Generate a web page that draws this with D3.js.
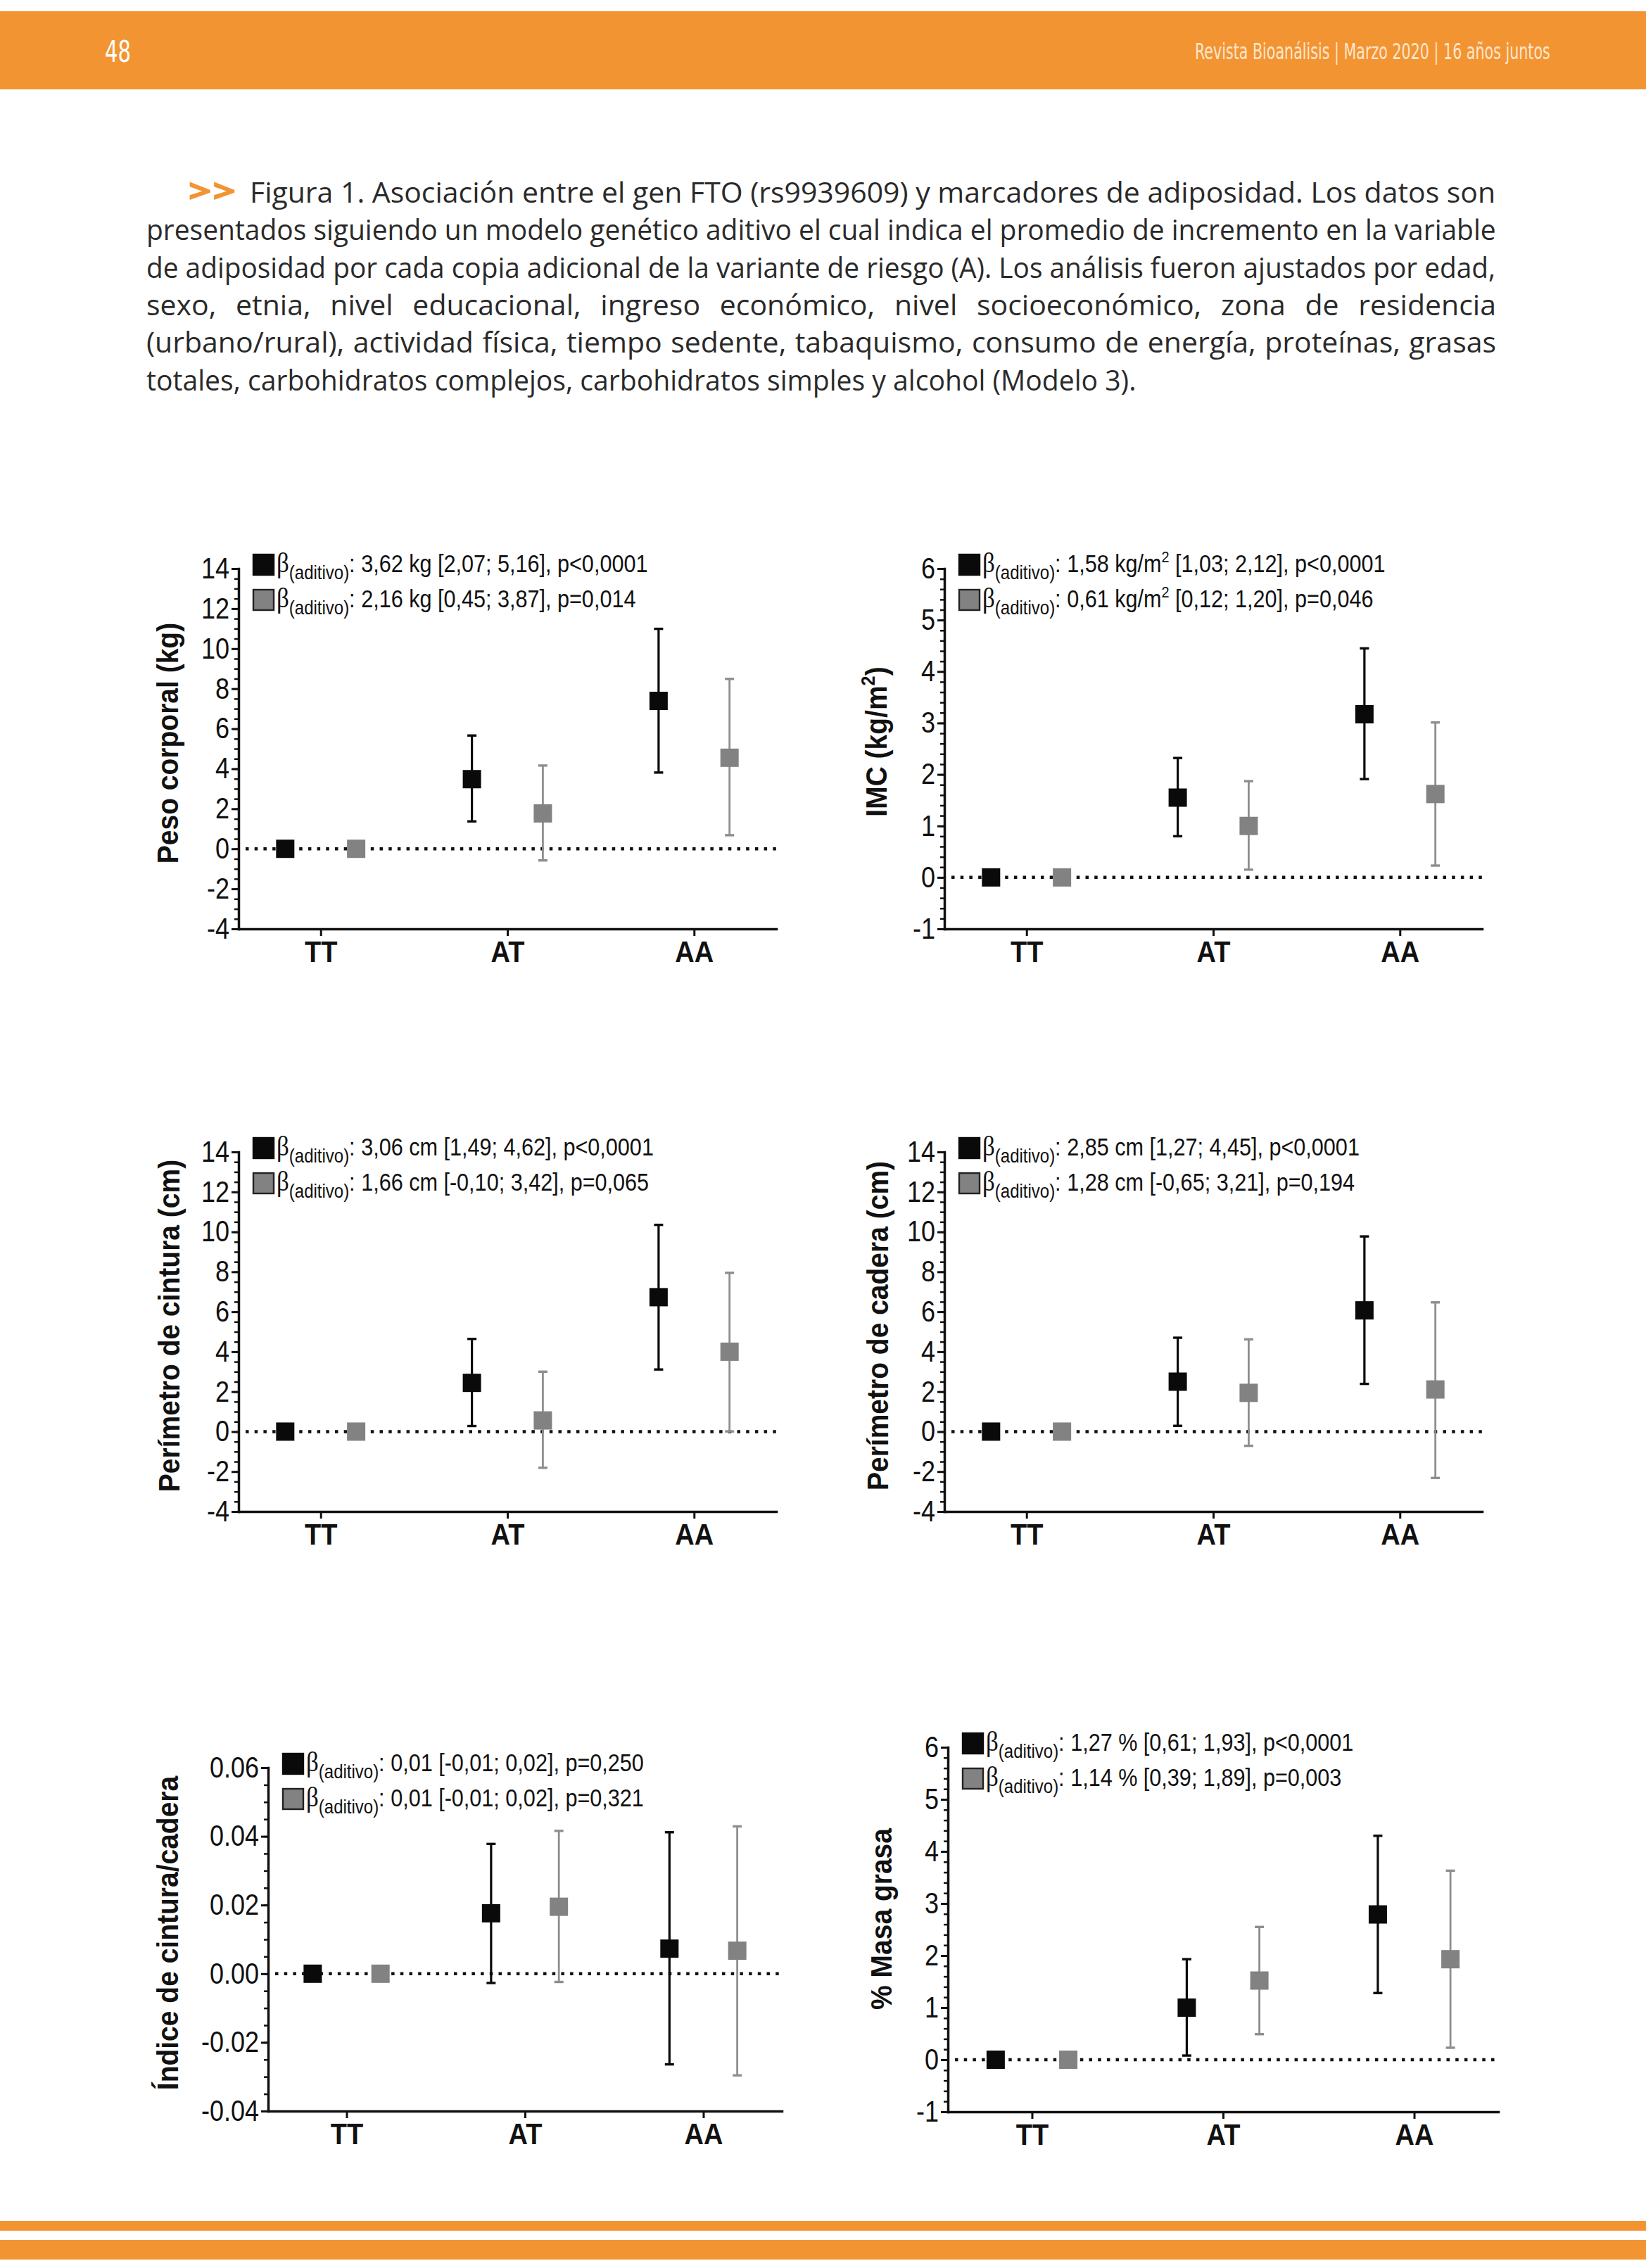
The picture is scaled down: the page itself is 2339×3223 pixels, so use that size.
<!DOCTYPE html>
<html><head><meta charset="utf-8">
<script src="https://cdn.jsdelivr.net/npm/d3@7"></script>
<style>
html,body{margin:0;padding:0;background:#fff;}
svg{display:block;}
</style></head><body>
<svg id="page" width="2339" height="3223"></svg>
<script>
// ---------------- DATA ----------------
const categories = ["TT", "AT", "AA"];

// Panel 1: Peso corporal (kg)
const pesoBlack   = [0, 3.48, 7.39];
const pesoBlackLo = [null, 1.37, 3.81];
const pesoBlackHi = [null, 5.66, 10.99];
const pesoGray    = [0, 1.77, 4.55];
const pesoGrayLo  = [null, -0.58, 0.68];
const pesoGrayHi  = [null, 4.16, 8.49];
const pesoLegend  = ["3,62 kg [2,07; 5,16], p<0,0001", "2,16 kg [0,45; 3,87], p=0,014"];

// Panel 2: IMC (kg/m2)
const imcBlack   = [0, 1.55, 3.17];
const imcBlackLo = [null, 0.80, 1.91];
const imcBlackHi = [null, 2.32, 4.45];
const imcGray    = [0, 1.00, 1.62];
const imcGrayLo  = [null, 0.15, 0.23];
const imcGrayHi  = [null, 1.87, 3.01];
const imcLegend  = ["1,58 kg/m² [1,03; 2,12], p<0,0001", "0,61 kg/m² [0,12; 1,20], p=0,046"];

// Panel 3: Perímetro de cintura (cm)
const cinBlack   = [0, 2.44, 6.73];
const cinBlackLo = [null, 0.28, 3.11];
const cinBlackHi = [null, 4.64, 10.35];
const cinGray    = [0, 0.56, 4.00];
const cinGrayLo  = [null, -1.81, 0.01];
const cinGrayHi  = [null, 3.00, 7.95];
const cinLegend  = ["3,06 cm [1,49; 4,62], p<0,0001", "1,66 cm [-0,10; 3,42], p=0,065"];

// Panel 4: Perímetro de cadera (cm)
const cadBlack   = [0, 2.50, 6.07];
const cadBlackLo = [null, 0.29, 2.39];
const cadBlackHi = [null, 4.70, 9.77];
const cadGray    = [0, 1.94, 2.11];
const cadGrayLo  = [null, -0.71, -2.32];
const cadGrayHi  = [null, 4.62, 6.47];
const cadLegend  = ["2,85 cm [1,27; 4,45], p<0,0001", "1,28 cm [-0,65; 3,21], p=0,194"];

// Panel 5: Índice de cintura/cadera
const iccBlack   = [0, 0.0176, 0.0073];
const iccBlackLo = [null, -0.0027, -0.0264];
const iccBlackHi = [null, 0.0378, 0.0412];
const iccGray    = [0, 0.0195, 0.0067];
const iccGrayLo  = [null, -0.0024, -0.0296];
const iccGrayHi  = [null, 0.0416, 0.0429];
const iccLegend  = ["0,01 [-0,01; 0,02], p=0,250", "0,01 [-0,01; 0,02], p=0,321"];

// Panel 6: % Masa grasa
const mgBlack   = [0, 1.00, 2.79];
const mgBlackLo = [null, 0.08, 1.28];
const mgBlackHi = [null, 1.93, 4.30];
const mgGray    = [0, 1.52, 1.93];
const mgGrayLo  = [null, 0.49, 0.23];
const mgGrayHi  = [null, 2.55, 3.63];
const mgLegend  = ["1,27 % [0,61; 1,93], p<0,0001", "1,14 % [0,39; 1,89], p=0,003"];

// Tick values and labels
const ticks14 = [-4, -2, 0, 2, 4, 6, 8, 10, 12, 14];
const ticks14Labels = ["-4", "-2", "0", "2", "4", "6", "8", "10", "12", "14"];
const ticks6 = [-1, 0, 1, 2, 3, 4, 5, 6];
const ticks6Labels = ["-1", "0", "1", "2", "3", "4", "5", "6"];
const ticksIcc = [-0.04, -0.02, 0, 0.02, 0.04, 0.06];
const ticksIccLabels = ["-0.04", "-0.02", "0.00", "0.02", "0.04", "0.06"];

const yTitles = ["Peso corporal (kg)", "IMC (kg/m²)", "Perímetro de cintura (cm)",
                 "Perímetro de cadera (cm)", "Índice de cintura/cadera", "% Masa grasa"];

const captionLines = [
  "Figura 1. Asociación entre el gen FTO (rs9939609) y marcadores de adiposidad. Los datos son",
  "presentados siguiendo un modelo genético aditivo el cual indica el promedio de incremento en la variable",
  "de adiposidad por cada copia adicional de la variante de riesgo (A). Los análisis fueron ajustados por edad,",
  "sexo, etnia, nivel educacional, ingreso económico, nivel socioeconómico, zona de residencia",
  "(urbano/rural), actividad física, tiempo sedente, tabaquismo, consumo de energía, proteínas, grasas",
  "totales, carbohidratos complejos, carbohidratos simples y alcohol (Modelo 3)."
];
const pageNumber = "48";
const headerText = "Revista Bioanálisis | Marzo 2020 | 16 años juntos";

// ---------------- LAYOUT ----------------
const ORANGE = "#F39433";
const BLACK = "#0a0a0a";
const GRAY = "#828282";
const GRAYBAR = "#8e8e8e";
const SANS = "'Liberation Sans', Arial, sans-serif";
const NARROW = "'Liberation Sans Narrow','DejaVu Sans Condensed',sans-serif";

const svg = d3.select("#page");

// fit a text horizontally into a width using a transform (keeps bbox honest)
function fitText(x, y, w, str, attrs) {
  const t = svg.append("text").attr("x", 0).attr("y", 0);
  Object.entries(attrs).forEach(([k, v]) => t.attr(k, v));
  t.text(str);
  const nat = t.node().getComputedTextLength();
  const sx = w / nat;
  t.attr("transform", `translate(${x},${y}) scale(${sx},1)`);
  return t;
}

// header
svg.append("rect").attr("x", 0).attr("y", 16).attr("width", 2339).attr("height", 111).attr("fill", ORANGE);
fitText(149, 88, 37, pageNumber, {"font-family": NARROW, "font-size": 42, "fill": "#fff"});
fitText(1698, 84, 505, headerText, {"font-family": NARROW, "font-size": 32, "fill": "#FDE6CC"});

// footer bands
svg.append("rect").attr("x", 0).attr("y", 3156).attr("width", 2339).attr("height", 14).attr("fill", ORANGE);
svg.append("rect").attr("x", 0).attr("y", 3183).attr("width", 2339).attr("height", 28).attr("fill", ORANGE);

// caption
fitText(267, 288, 69, ">>", {"font-family": "'Open Sans',sans-serif", "font-weight": 800, "font-size": 46, "fill": ORANGE});
const capX = [355, 208, 208, 208, 208, 208];
const capR = [2126, 2126, 2126, 2126, 2126, 1615];
captionLines.forEach((t, i) => {
  const el = svg.append("text")
    .attr("x", 0).attr("y", 0)
    .attr("font-family", "'Open Sans',sans-serif").attr("font-size", 41)
    .attr("fill", "#2a2a2a").text(t);
  const w = el.node().getComputedTextLength();
  const target = capR[i] - capX[i];
  const yy = 288 + i * 53.3;
  if (w > target) {
    el.attr("transform", `translate(${capX[i]},${yy}) scale(${target / w},1)`);
  } else {
    const n = (t.match(/ /g) || []).length;
    el.style("word-spacing", ((target - w) / n) + "px")
      .attr("transform", `translate(${capX[i]},${yy})`);
  }
});

// panel definitions
const panels = [
  {x0: 339, x1: 1103, yTop: 808, yBot: 1320, domain: [-4, 14], ticks: ticks14, labels: ticks14Labels, minorStep: 0.5,
   title: yTitles[0], tx: 238, ty: 1056, legend: pesoLegend,
   series: [[pesoBlack, pesoBlackLo, pesoBlackHi], [pesoGray, pesoGrayLo, pesoGrayHi]]},
  {x0: 1342, x1: 2106, yTop: 808, yBot: 1320, domain: [-1, 6], ticks: ticks6, labels: ticks6Labels, minorStep: 0.2,
   title: yTitles[1], tx: 1245, ty: 1054, legend: imcLegend,
   series: [[imcBlack, imcBlackLo, imcBlackHi], [imcGray, imcGrayLo, imcGrayHi]]},
  {x0: 339, x1: 1103, yTop: 1637, yBot: 2148, domain: [-4, 14], ticks: ticks14, labels: ticks14Labels, minorStep: 0.5,
   title: yTitles[2], tx: 240, ty: 1884, legend: cinLegend,
   series: [[cinBlack, cinBlackLo, cinBlackHi], [cinGray, cinGrayLo, cinGrayHi]]},
  {x0: 1342, x1: 2106, yTop: 1637, yBot: 2148, domain: [-4, 14], ticks: ticks14, labels: ticks14Labels, minorStep: 0.5,
   title: yTitles[3], tx: 1247, ty: 1884, legend: cadLegend,
   series: [[cadBlack, cadBlackLo, cadBlackHi], [cadGray, cadGrayLo, cadGrayHi]]},
  {x0: 381, x1: 1111, yTop: 2512, yBot: 3000, domain: [-0.04, 0.06], ticks: ticksIcc, labels: ticksIccLabels, minorStep: 0.005,
   title: yTitles[4], tx: 238, ty: 2747, legend: iccLegend,
   series: [[iccBlack, iccBlackLo, iccBlackHi], [iccGray, iccGrayLo, iccGrayHi]]},
  {x0: 1347, x1: 2129, yTop: 2483, yBot: 3001, domain: [-1, 6], ticks: ticks6, labels: ticks6Labels, minorStep: 0.2,
   title: yTitles[5], tx: 1252, ty: 2727, legend: mgLegend,
   series: [[mgBlack, mgBlackLo, mgBlackHi], [mgGray, mgGrayLo, mgGrayHi]]}
];

function addSuperscriptText(sel, str, size) {
  const parts = str.split("²");
  parts.forEach((p, i) => {
    if (i > 0) {
      sel.append("tspan").attr("font-size", size * 0.65).attr("dy", -size * 0.4).text("2");
      sel.append("tspan").attr("font-size", size).attr("dy", size * 0.4).text(p);
    } else {
      sel.append("tspan").attr("font-size", size).text(p);
    }
  });
}

function drawPanel(p) {
  const g = svg.append("g");
  const x = d3.scalePoint().domain(categories).range([p.x0, p.x1]).padding(0.44);
  const y = d3.scaleLinear().domain(p.domain).range([p.yBot, p.yTop]);
  const off = x.step() * 0.19;

  // minor ticks
  const nMin = Math.round((p.domain[1] - p.domain[0]) / p.minorStep);
  const minors = d3.range(nMin + 1).map(i => p.domain[0] + i * p.minorStep);
  const mg = g.append("g").attr("transform", `translate(${p.x0},0)`)
    .call(d3.axisLeft(y).tickValues(minors).tickSize(6).tickFormat(""));
  mg.select(".domain").remove();
  mg.selectAll(".tick line").attr("stroke", "#111").attr("stroke-width", 2.5);

  // major y axis
  const ya = g.append("g").attr("transform", `translate(${p.x0},0)`)
    .call(d3.axisLeft(y).tickValues(p.ticks).tickFormat((d, i) => p.labels[i])
      .tickSize(10).tickSizeOuter(0).tickPadding(3));
  ya.select(".domain").attr("stroke", "#111").attr("stroke-width", 3.5).attr("stroke-linecap", "square");
  ya.selectAll(".tick line").attr("stroke", "#111").attr("stroke-width", 3);
  ya.selectAll(".tick text").attr("font-family", SANS).attr("font-size", 36).attr("fill", "#111")
    .attr("transform", "scale(1,1.16)");

  // x axis
  const xa = g.append("g").attr("transform", `translate(0,${p.yBot})`)
    .call(d3.axisBottom(x).tickSize(10).tickSizeOuter(0));
  xa.select(".domain").attr("stroke", "#111").attr("stroke-width", 3.5).attr("stroke-linecap", "square");
  xa.selectAll(".tick line").attr("stroke", "#111").attr("stroke-width", 3);
  xa.selectAll(".tick text").attr("font-family", SANS).attr("font-weight", "bold").attr("font-size", 38)
    .attr("fill", "#111").attr("dy", null).attr("y", 0)
    .attr("transform", "translate(0,47) scale(1,1.12)");

  // zero dotted line
  g.append("line").attr("x1", p.x0 + 10).attr("x2", p.x1).attr("y1", y(0)).attr("y2", y(0))
    .attr("stroke", "#111").attr("stroke-width", 4.5).attr("stroke-dasharray", "4.5 8.2");

  // series
  const styles = [
    {fill: BLACK, bar: BLACK, bw: 3.2, dx: -off},
    {fill: GRAY, bar: GRAYBAR, bw: 2.8, dx: off}
  ];
  const M = 26;
  p.series.forEach((s, si) => {
    const st = styles[si];
    const [est, lo, hi] = s;
    const pts = categories.map((c, i) => ({c, v: est[i], lo: lo[i], hi: hi[i]}));
    const sg = g.append("g");
    const withErr = pts.filter(d => d.lo !== null);
    sg.selectAll("line.v").data(withErr).join("line")
      .attr("x1", d => x(d.c) + st.dx).attr("x2", d => x(d.c) + st.dx)
      .attr("y1", d => y(d.lo)).attr("y2", d => y(d.hi))
      .attr("stroke", st.bar).attr("stroke-width", st.bw);
    ["lo", "hi"].forEach(k => {
      sg.selectAll("line.cap" + k).data(withErr).join("line")
        .attr("x1", d => x(d.c) + st.dx - 6.5).attr("x2", d => x(d.c) + st.dx + 6.5)
        .attr("y1", d => y(d[k])).attr("y2", d => y(d[k]))
        .attr("stroke", st.bar).attr("stroke-width", 3.4);
    });
    sg.selectAll("rect").data(pts).join("rect")
      .attr("x", d => x(d.c) + st.dx - M / 2).attr("y", d => y(d.v) - M / 2)
      .attr("width", M).attr("height", M).attr("fill", st.fill);
  });

  // legend
  p.legend.forEach((txt, r) => {
    const cy = p.yTop - 6 + r * 50;
    g.append("rect").attr("x", p.x0 + 21).attr("y", cy - 14).attr("width", 29).attr("height", 29)
      .attr("fill", r === 0 ? BLACK : GRAY)
      .attr("stroke", r === 0 ? BLACK : "#222").attr("stroke-width", 2.4);
    const t = g.append("text")
      .attr("transform", `translate(${p.x0 + 54},${cy + 11}) scale(1,1.14)`)
      .attr("font-family", SANS).attr("fill", "#111");
    t.append("tspan").attr("font-family", "'Liberation Serif','DejaVu Serif',serif").attr("font-size", 35).text("β");
    t.append("tspan").attr("font-size", 24).attr("dy", 9).text("(aditivo)");
    t.append("tspan").attr("font-size", 30.6).attr("dy", -9).text(": ");
    addSuperscriptText(t, txt, 30.6);
  });

  // y title
  const yt = g.append("text")
    .attr("transform", `translate(${p.tx},${p.ty}) rotate(-90) scale(1,1.1)`)
    .attr("text-anchor", "middle").attr("dy", "0.36em")
    .attr("font-family", SANS).attr("font-weight", "bold").attr("font-size", 39).attr("fill", "#111");
  addSuperscriptText(yt, p.title, 39);
}

panels.forEach(drawPanel);
</script>
</body></html>
